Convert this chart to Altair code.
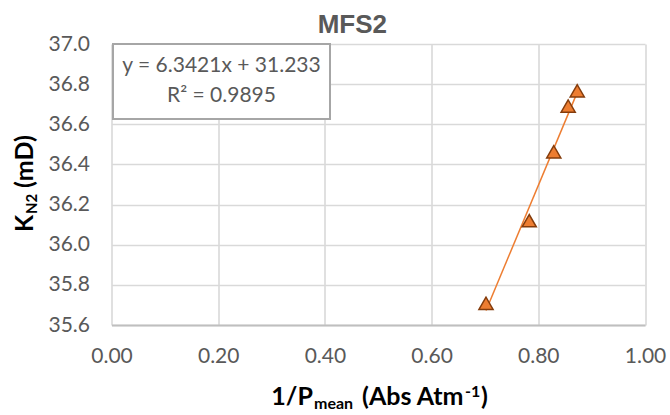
import altair as alt
import pandas as pd

# ---- data ----
inv_p_mean = [0.702, 0.783, 0.829, 0.856, 0.873]
k_n2 = [35.708, 36.120, 36.463, 36.691, 36.767]
x_ticks = [0.0, 0.2, 0.4, 0.6, 0.8, 1.0]
y_ticks = [35.6, 35.8, 36.0, 36.2, 36.4, 36.6, 36.8, 37.0]
title_text = ["MFS2"]
eq_lines = ["y = 6.3421x + 31.233", "R² = 0.9895"]

df = pd.DataFrame({"x": inv_p_mean, "y": k_n2})

W, H = 533.5, 281
ORANGE = "#ED7D31"
GRAY = "#595959"
FONT = "Lato"

x_enc = alt.X("x:Q", scale=alt.Scale(domain=[0, 1], nice=False, zero=False),
              axis=alt.Axis(values=x_ticks, format=".2f", title=None, ticks=False,
                            labelFlush=False,
                            labelFont=FONT, labelFontSize=21, labelColor=GRAY,
                            labelPadding=20, domainColor="#bfbfbf", domainWidth=2,
                            gridColor="#d9d9d9", gridWidth=1.6))
y_enc = alt.Y("y:Q", scale=alt.Scale(domain=[35.6, 37.0], nice=False, zero=False),
              axis=alt.Axis(values=y_ticks, format=".1f", title=None, ticks=False,
                            domain=False, labelFlush=False,
                            labelFont=FONT, labelFontSize=21,
                            labelColor=GRAY, labelPadding=22,
                            gridColor="#d9d9d9", gridWidth=1.6))

base = alt.Chart(df)

trend = base.transform_regression("x", "y").mark_line(
    color=ORANGE, strokeWidth=1.5).encode(x=x_enc, y=y_enc)

points = base.mark_point(shape="triangle-up", size=200, filled=True,
                         fill=ORANGE, stroke="#843C0C", strokeWidth=1.5,
                         opacity=1).encode(x=x_enc, y=y_enc)


def txt(s, x, y, size, align="left", angle=0, color="black", weight="bold",
        font=FONT):
    d = pd.DataFrame({"t": [s]})
    kw = dict(align=align, baseline="alphabetic", fontSize=size,
              fontWeight=weight, color=color, font=font)
    if angle:
        kw["angle"] = angle
    return alt.Chart(d).mark_text(**kw).encode(
        text="t:N", x=alt.value(x), y=alt.value(y))


box = alt.Chart(pd.DataFrame({"t": [""]})).mark_rect(
    fill="white", stroke="#a6a6a6", strokeWidth=2).encode(
    x=alt.value(1.5), x2=alt.value(218.5), y=alt.value(0), y2=alt.value(75))

eq1 = txt(eq_lines[0], 110, 27.5, 21, align="center", color=GRAY, weight="normal")
eq2 = txt(eq_lines[1], 110, 57.5, 21, align="center", color=GRAY, weight="normal")

title = txt(title_text[0], 275.5, -11, 26, align="right", color=GRAY,
            font="Liberation Sans")

# x-axis title: 1/P_mean (Abs Atm^-1)
xt1 = txt("1/P", 201.5, 361, 25, align="right")
xt2 = txt("mean", 202.5, 365, 16, align="left")
xt3 = txt("(Abs Atm", 352, 361, 25, align="right")
xt4 = txt("-1", 353.5, 353, 16, align="left")
xt5 = txt(")", 369.5, 361, 25, align="left")

# y-axis title: K_N2 (mD)
yt1 = txt("K", -78.5, 188, 25, align="left", angle=270)
yt2 = txt("N2", -74.5, 170, 15, align="left", angle=270)
yt3 = txt("(mD)", -78.5, 144, 25, align="left", angle=270)

chart = alt.layer(trend, points, box, eq1, eq2, title,
                  xt1, xt2, xt3, xt4, xt5, yt1, yt2, yt3).properties(
    width=W, height=H,
    autosize=alt.AutoSizeParams(type="none"),
    padding={"left": 111.5, "top": 44, "right": 25, "bottom": 90},
    background="white",
).configure_view(stroke=None)

chart.save("out.html", embed_options={"renderer": "svg", "actions": False})
